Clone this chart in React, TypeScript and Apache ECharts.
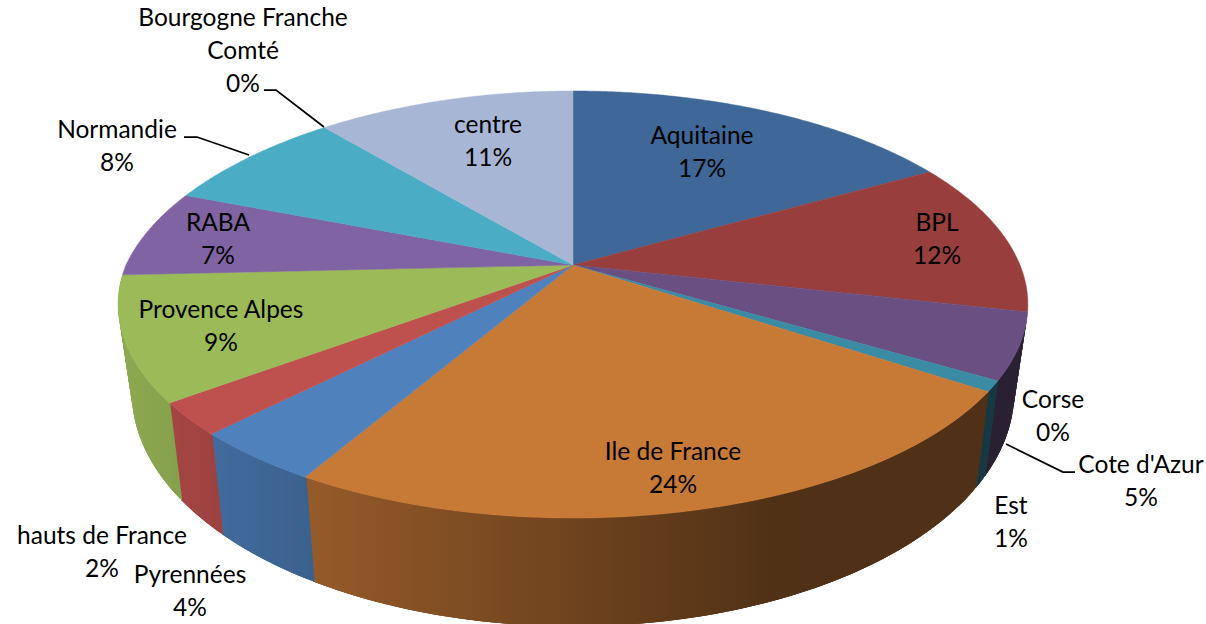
import React, { useEffect, useRef } from "react";
import * as echarts from "echarts";

// Data, clockwise from twelve o'clock
const names = ["Aquitaine", "BPL", "Cote d'Azur", "Corse", "Est", "Ile de France", "Pyrennées", "hauts de France", "Provence Alpes", "RABA", "Normandie", "Bourgogne Franche\nComté", "centre"];
const values = [16.8, 11.7, 5.0, 0, 0.8, 24.1, 4.0, 2.45, 9.4, 6.6, 7.9, 0, 11.25];
const colors = ["#3F6797", "#983F3D", "#694F82", "#77933C", "#3A8BA4", "#C77936", "#4F81BD", "#BE504E", "#9BBB59", "#8063A2", "#4BACC6", "#7F9A48", "#A8B6D6"];

// Label layout: centre x and first-line y for each slice, in slice order
const labelX = [702, 937, 1141, 1053, 1011, 673, 190, 102, 221, 218, 117, 243, 488];
const labelY = [134.5, 221.5, 463.5, 398.5, 504.5, 450.5, 573.5, 534.5, 308.5, 221.5, 128.5, 16.5, 123.5];
const leaders = [
  [[264, 90], [276, 90], [324, 127]],
  [[184, 137], [197, 137], [249, 155]],
  [[1075, 472], [1063, 472], [1006, 444]],
];

// Projection of the pie disc
const CX = 573, TOP_CY = 265, BOT_CY = 349;
const RX = 447, TOP_RY = 206.2, BOT_RY = 226, BOT_X = 0.97, PERSP = 0.185;
const BACK_LEFT_TRIM = 6;
const SIDE_FROM = 102.5, SIDE_TO = 267.2;
const FONT = "Lato, Carlito, Calibri, sans-serif";
const FONT_SIZE = 24.5;
const LINE_H = 33;

const total = values.reduce((a, b) => a + b, 0);
const spans = (() => {
  let acc = 0;
  return values.map((v) => {
    const s = (acc / total) * 360;
    acc += v;
    return [s, (acc / total) * 360];
  });
})();

const project = (deg: number, bottom: boolean) => {
  const t = (deg * Math.PI) / 180;
  const u = Math.sin(t), v = -Math.cos(t);
  const d = 1 - PERSP * v;
  if (bottom) return [CX + (BOT_X * RX * u) / d, BOT_CY + (BOT_RY * v) / d];
  const trim = deg > 270 ? BACK_LEFT_TRIM * Math.abs(Math.sin(2 * t)) : 0;
  return [CX + (RX * u) / d + trim, TOP_CY + (TOP_RY * v) / d];
};
const angles = (a: number, b: number) => {
  const n = Math.max(3, Math.ceil((b - a) * 2));
  const out: number[] = [];
  for (let i = 0; i <= n; i++) out.push(a + ((b - a) * i) / n);
  return out;
};
const shade = (x: number) => {
  if (x <= 130) return 0.9;
  if (x <= 310) return 0.9 - ((x - 130) / 180) * 0.15;
  if (x <= 780) return 0.75 - ((x - 310) / 470) * 0.35;
  return 0.4;
};
const tint = (hex: string, k: number) => {
  const n = parseInt(hex.slice(1), 16);
  const c = [(n >> 16) & 255, (n >> 8) & 255, n & 255].map((p) => Math.round(p * k));
  return `rgb(${c[0]},${c[1]},${c[2]})`;
};
const sideFill = (color: string, pts: number[][]) => {
  const xs = pts.map((p) => p[0]);
  const x0 = Math.min(...xs), x1 = Math.max(...xs);
  const stops = [];
  for (let i = 0; i <= 16; i++) {
    const f = i / 16;
    stops.push({ offset: f, color: tint(color, shade(x0 + (x1 - x0) * f)) });
  }
  return new echarts.graphic.LinearGradient(x0, 0, x1 === x0 ? x0 + 1 : x1, 0, stops, true);
};

export default function App() {
  const ref = useRef<HTMLDivElement>(null);
  useEffect(() => {
    document.body.style.margin = "0";
    const chart = echarts.init(ref.current!, undefined, { renderer: "svg" });
    const data = spans.map((s) => ({ value: s }));
    const labels = names.map((name, i) => ({
      type: "text",
      z: 20,
      style: {
        text: `${name}\n${Math.round((values[i] / total) * 100)}%`,
        x: labelX[i],
        y: labelY[i] - LINE_H / 2,
        font: `${FONT_SIZE}px ${FONT}`,
        lineHeight: LINE_H,
        textAlign: "center",
        textVerticalAlign: "top",
        fill: "#000",
      },
    }));
    chart.setOption({
      animation: false,
      backgroundColor: "#fff",
      xAxis: { show: false },
      yAxis: { show: false },
      series: [
        {
          type: "custom",
          coordinateSystem: "none",
          z: 1,
          silent: true,
          data,
          renderItem: (p: any, api: any) => {
            const start = api.value(0), end = api.value(1);
            const a = Math.max(start - 0.2, SIDE_FROM), b = Math.min(end, SIDE_TO);
            if (b - a <= 0 || end - start <= 0) return { type: "group", children: [] };
            const steps = angles(a, b);
            const all = steps.flatMap((t) => [project(t, false), project(t, true)]);
            const fill = sideFill(colors[p.dataIndex], all);
            const children = steps.slice(0, -1).map((t, i) => {
              const next = steps[Math.min(i + 3, steps.length - 1)];
              return {
                type: "polygon",
                shape: { points: [project(t, false), project(next, false), project(next, true), project(t, true)] },
                style: { fill },
              };
            });
            return { type: "group", children };
          },
        },
        {
          type: "custom",
          coordinateSystem: "none",
          z: 2,
          silent: true,
          data,
          renderItem: (p: any, api: any) => {
            const a = api.value(0), b = api.value(1);
            if (b - a <= 0) return { type: "group", children: [] };
            const pts = [[CX, TOP_CY], ...angles(a, b).map((t) => project(t, false))];
            const c = colors[p.dataIndex];
            return { type: "polygon", shape: { points: pts }, style: { fill: c, stroke: c, lineWidth: 0.5 } };
          },
        },
      ],
      graphic: [
        ...labels,
        ...leaders.map((pts) => ({
          type: "polyline",
          z: 20,
          shape: { points: pts },
          style: { stroke: "#000", lineWidth: 1.75, fill: "none" },
        })),
      ],
    });
    return () => chart.dispose();
  }, []);
  return <div ref={ref} style={{ position: "fixed", left: 0, top: 0, width: 1206, height: 624 }} />;
}
